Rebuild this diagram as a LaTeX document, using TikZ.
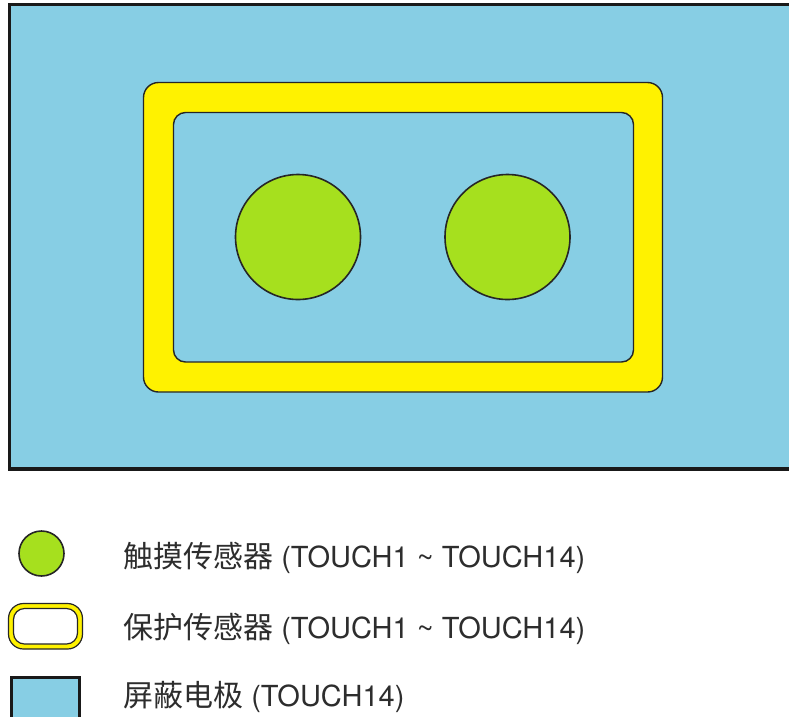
\documentclass[tikz,border=0pt]{standalone}
\usepackage{fontspec}
\setmainfont{TeX Gyre Heros}
\newfontfamily\cjk{Noto Sans CJK SC}
\definecolor{shieldblue}{RGB}{135,206,228}
\definecolor{guardyellow}{RGB}{255,242,0}
\definecolor{touchgreen}{RGB}{166,224,30}
\definecolor{txtgray}{RGB}{45,45,45}
\newcommand{\cjkbig}{\cjk\fontsize{30}{32}\selectfont}
\begin{document}
\begin{tikzpicture}[x=1pt,y=-1pt,
  shield/.style={fill=shieldblue,draw=black!90,line width=3.5pt},
  guard/.style={fill=guardyellow,draw=black!85,line width=1.4pt},
  guardin/.style={fill=shieldblue,draw=black!85,line width=1.4pt},
  pad/.style={fill=touchgreen,draw=black!85,line width=1.6pt},
  legtext/.style={anchor=base west,inner sep=0pt,text=txtgray,font=\fontsize{29}{32}\selectfont}]
\clip (0,0) rectangle (789,716);
\fill[white] (0,0) rectangle (789,716);
% main shield
\draw[shield] (9.5,4.5) rectangle (805,469);
% guard ring
\draw[guard] (143.5,82.5) [rounded corners=15pt] rectangle (662.5,392);
\draw[guardin] (173.5,112.5) [rounded corners=12pt] rectangle (633.5,362);
% touch pads
\draw[pad] (298,237) circle (62.5);
\draw[pad] (507.5,237) circle (62.5);
% legend symbols
\draw[pad] (41.5,553.5) circle (22.5);
\draw[fill=guardyellow,draw=black!85,line width=1.2pt,rounded corners=15pt] (8.5,603.5) rectangle (82.5,649);
\draw[fill=white,draw=black!85,line width=1.2pt,rounded corners=11pt] (13.5,608.5) rectangle (77.5,644);
\draw[shield,line width=3.5pt] (11.5,677.5) rectangle (79.5,730);
% legend texts
\node[legtext] (t1) at (123,567) {{\cjkbig 触摸传感器} (TOUCH1 \char`\~{} TOUCH14)};
\node[legtext] (t2) at (123,638) {{\cjkbig 保护传感器} (TOUCH1 \char`\~{} TOUCH14)};
\node[legtext] (t3) at (123,706) {{\cjkbig 屏蔽电极} (TOUCH14)};
\end{tikzpicture}
\end{document}
